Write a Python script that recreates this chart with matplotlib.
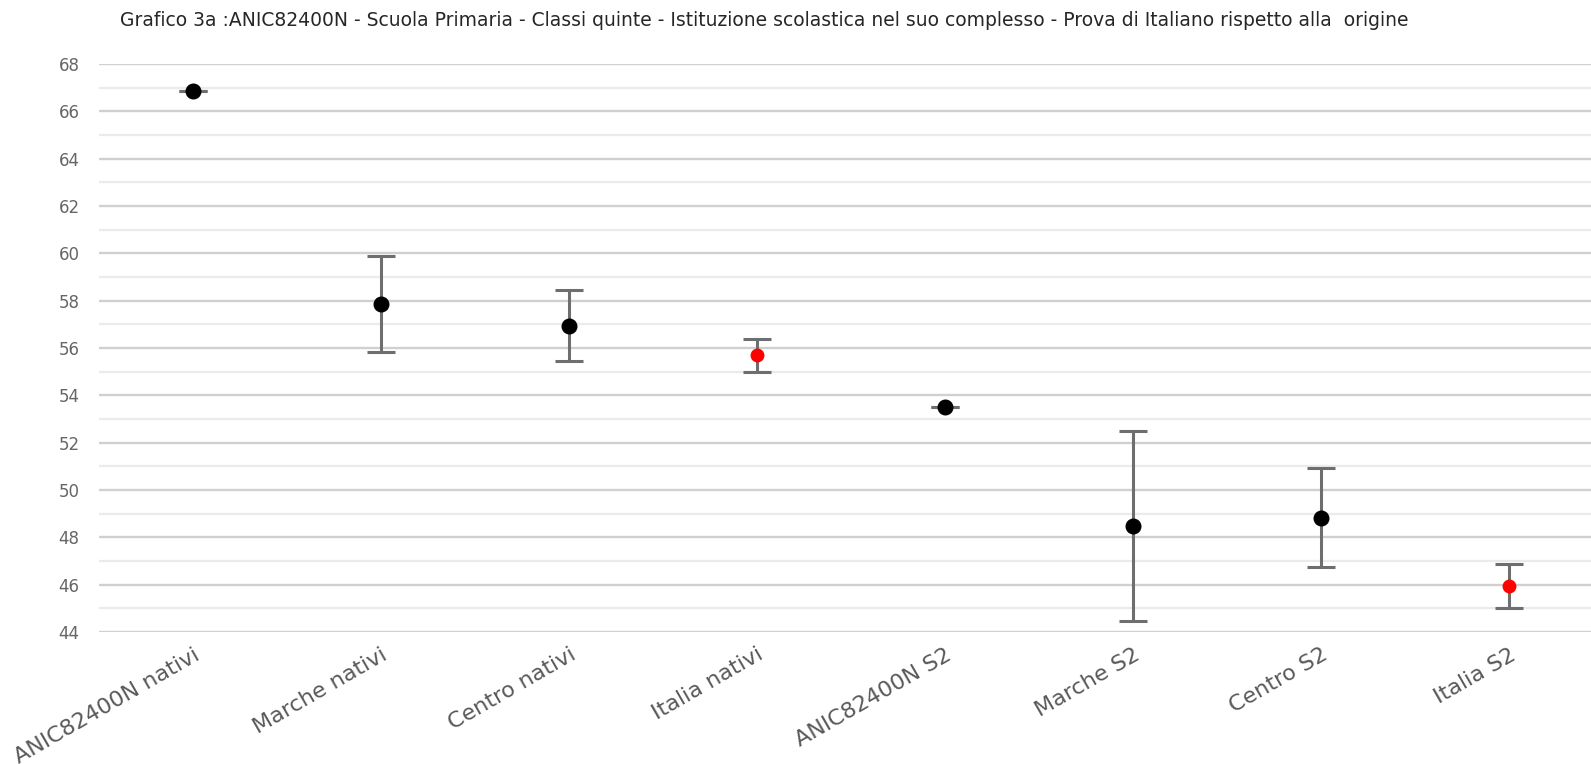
import matplotlib
matplotlib.use("Agg")
import matplotlib.pyplot as plt
from matplotlib.ticker import MultipleLocator

# data
categories = ["ANIC82400N nativi", "Marche nativi", "Centro nativi", "Italia nativi",
              "ANIC82400N S2", "Marche S2", "Centro S2", "Italia S2"]
means = [66.86, 57.85, 56.93, 55.70, 53.50, 48.47, 48.83, 45.94]
upper = [66.86, 59.90, 58.44, 56.40, 53.50, 52.51, 50.93, 46.87]
lower = [66.86, 55.81, 55.43, 54.98, 53.50, 44.45, 46.75, 45.03]
point_colors = ["black", "black", "black", "red", "black", "black", "black", "red"]

title = ("Grafico 3a :ANIC82400N - Scuola Primaria - Classi quinte - Istituzione scolastica "
         "nel suo complesso - Prova di Italiano rispetto alla  origine")

plt.rcParams["font.family"] = ["DejaVu Sans"]

W, H = 1591, 764
fig = plt.figure(figsize=(W / 100, H / 100), dpi=100)
# plot area runs past the right edge like the original screenshot
ax = fig.add_axes([99 / W, 1 - 632 / H, 1504 / W, (632 - 64) / H])

x = list(range(len(categories)))
for i in x:
    yerr = [[means[i] - lower[i]], [upper[i] - means[i]]]
    _, caps, bars = ax.errorbar([i], [means[i]], yerr=yerr, fmt="none",
                                ecolor="#6e6e6e", elinewidth=2.2,
                                capsize=10, capthick=2.2, zorder=3)
    for c in caps:
        c.set_color("#3a3a3a")
    ms = 10.5 if point_colors[i] == "black" else 9.0
    ax.plot([i], [means[i]], "o", color=point_colors[i], markersize=ms, zorder=4)

ax.set_xlim(-0.5, len(categories) - 0.5)
ax.set_ylim(44, 68)
ax.yaxis.set_major_locator(MultipleLocator(2))
ax.yaxis.set_minor_locator(MultipleLocator(1))
ax.grid(axis="y", which="major", color="#d0d0d0", linewidth=1.7, zorder=0)
ax.grid(axis="y", which="minor", color="#ebebeb", linewidth=1.6, zorder=0)
ax.set_axisbelow(True)
for s in ax.spines.values():
    s.set_visible(False)

ax.tick_params(axis="y", which="both", length=0, pad=14, labelsize=12, labelcolor="#666666")
ax.tick_params(axis="x", length=0, pad=9)
ax.set_xticks(x)
ax.set_xticklabels(categories, rotation=30, ha="right", rotation_mode="anchor",
                   fontsize=16, color="#595959")

fig.text(120 / W, 1 - 20 / H, title, ha="left", va="center", fontsize=13.5, color="#262626")

fig.savefig("out.png", dpi=100)
